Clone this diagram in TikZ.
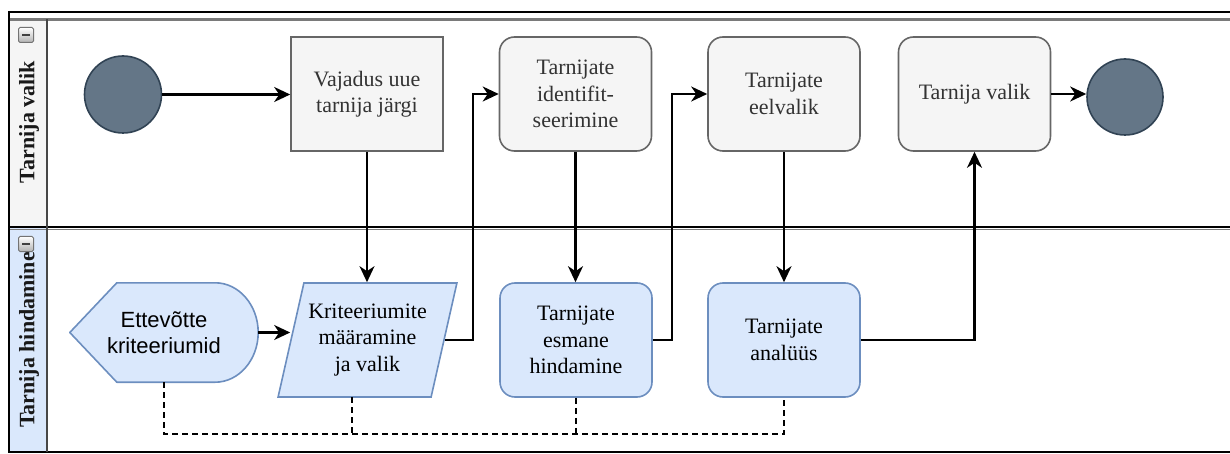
\documentclass[tikz,border=0pt]{standalone}
\usepackage{fontspec}
\setmainfont{Liberation Serif}
\newfontfamily\arialf{Liberation Sans}
\usetikzlibrary{arrows.meta,shapes.geometric,calc}

\definecolor{grayfill}{HTML}{F5F5F5}
\definecolor{graystroke}{HTML}{666666}
\definecolor{bluefill}{HTML}{DAE8FC}
\definecolor{bluestroke}{HTML}{6C8EBF}
\definecolor{evfill}{HTML}{647687}
\definecolor{evstroke}{HTML}{314354}
\definecolor{txtgray}{HTML}{333333}
\definecolor{lanegray}{HTML}{7A7A7A}

\pgfdeclarelayer{bg}
\pgfsetlayers{bg,main}

\begin{document}
\begin{tikzpicture}[x=1pt,y=-1pt,
  every node/.style={font=\fontsize{22}{26.5}\selectfont, align=center, inner sep=0pt},
  taskgray/.style={draw=graystroke, fill=grayfill, line width=1.6pt, text=txtgray,
    minimum width=152pt, minimum height=114pt},
  taskround/.style={taskgray, rounded corners=15pt},
  taskblue/.style={draw=bluestroke, fill=bluefill, line width=1.6pt, text=black,
    rounded corners=15pt, minimum width=152pt, minimum height=114pt},
  event/.style={circle, draw=evstroke, fill=evfill, line width=1.6pt, minimum size=77pt},
  flow/.style={draw=black, line width=2.2pt,
    -{Stealth[length=16pt,width=15pt,inset=5pt]}},
  assoc/.style={draw=black, line width=1.9pt, dash pattern=on 6pt off 4pt},
  lanetitle/.style={rotate=90, font=\fontsize{22}{26}\selectfont\bfseries, text=black!90},
  collapse/.style={draw=gray!90!black, top color=white, bottom color=gray!60, line width=1pt,
    rounded corners=1.5pt, minimum size=15pt}
]
\useasboundingbox (0,0) rectangle (1230,454);

% pool frame and lane headers
\fill[grayfill] (9,19) rectangle (47,227);
\fill[bluefill] (9,227) rectangle (47,452);
\draw[line width=2.4pt, black] (9,12) -- (1230,12);
\draw[line width=2.2pt, lanegray] (9,19.5) -- (1230,19.5);
\draw[line width=2.6pt, black] (9,227) -- (1230,227);
\draw[line width=1.2pt, lanegray] (9,229.2) -- (1230,229.2);
\draw[line width=2.4pt, black] (9,452) -- (1230,452);
\draw[line width=2.4pt, black] (9,11) -- (9,453);
\draw[line width=2.2pt, graystroke!70!black] (47,19.5) -- (47,452);

\node[lanetitle] (lane1) at (29,122) {Tarnija valik};
\node[lanetitle] (lane2) at (29,340) {Tarnija hindamine};
\node[collapse] (col1) at (26,35) {};
\node[collapse] (col2) at (26,244) {};
\draw[line width=2pt, black!75] ($(col1.center)+(-4,0)$) -- ($(col1.center)+(4,0)$);
\draw[line width=2pt, black!75] ($(col2.center)+(-4,0)$) -- ($(col2.center)+(4,0)$);

% upper lane
\node[event] (start) at (123,94.5) {};
\node[taskgray] (need) at (367,94) {Vajadus uue\\tarnija järgi};
\node[taskround] (ident) at (575.5,94) {Tarnijate\\identifit-\\seerimine};
\node[taskround] (eel) at (784,94) {Tarnijate\\eelvalik};
\node[taskround] (val) at (974.5,94) {Tarnija valik};
\node[event, minimum size=76pt] (end) at (1125,97) {};

% lower lane
\node[minimum width=188pt, minimum height=99pt, font=\arialf\fontsize{22}{26.5}\selectfont]
  (disp) at (164,332.5) {Ettevõtte\\kriteeriumid};
\begin{pgfonlayer}{bg}
\draw[draw=bluestroke, fill=bluefill, line width=1.6pt, line join=round]
  (disp.west) -- ($(disp.north west)+(47,0)$) -- ($(disp.north east)+(-43,0)$)
  .. controls ($(disp.north east)+(-19.3,0)$) and ($(disp.east)+(0,-27.3)$) .. (disp.east)
  .. controls ($(disp.east)+(0,27.3)$) and ($(disp.south east)+(-19.3,0)$) .. ($(disp.south east)+(-43,0)$)
  -- ($(disp.south west)+(47,0)$) -- cycle;
\end{pgfonlayer}

\node[trapezium, trapezium stretches=true, trapezium left angle=71.6, trapezium right angle=108.4,
  draw=bluestroke, fill=bluefill, line width=1.6pt, minimum width=179pt, minimum height=114pt]
  (crit) at (367.5,340) {Kriteeriumite\\määramine\\ ja valik};
\node[taskblue] (esm) at (576,340) {Tarnijate\\esmane\\hindamine};
\node[taskblue] (ana) at (784,340) {Tarnijate\\analüüs};

% routing columns and association bus
\coordinate (j1) at (473,0);
\coordinate (j2) at (672,0);
\coordinate (bus) at (0,434);
\coordinate (critb) at (352,397);

% sequence flows
\draw[flow] (start) -- (start -| need.west);
\draw[flow] (need.south) -- (need.south |- crit.north);
\draw[flow] (crit.right side) -| (j1 |- ident.west) -- (ident.west);
\draw[flow] (ident.south) -- (ident.south |- esm.north);
\draw[flow] (esm.east) -| (j2 |- eel.west) -- (eel.west);
\draw[flow] (eel.south) -- (eel.south |- ana.north);
\draw[flow] (ana.east) -| (val.south);
\draw[flow] (val.east) -- (val.east -| end.west);
\draw[flow] (disp.east) -- (disp.east -| crit.left side);

% associations
\draw[assoc] (disp.south) |- (ana.south |- bus) -- (ana.south);
\draw[assoc] (critb) -- (critb |- bus);
\draw[assoc] (esm.south) -- (esm.south |- bus);
\end{tikzpicture}
\end{document}
